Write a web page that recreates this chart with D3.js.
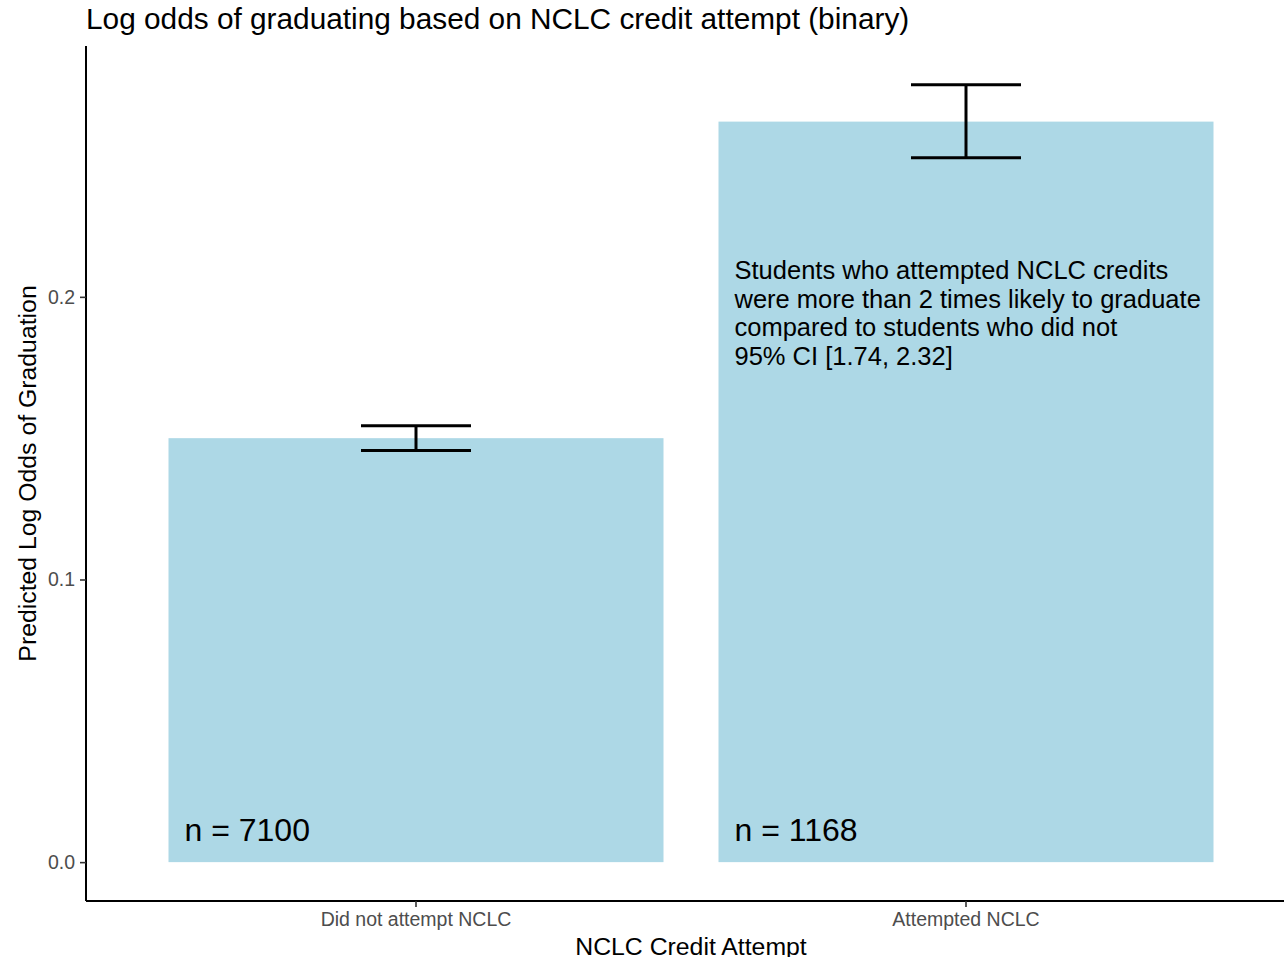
<!DOCTYPE html>
<style>
body { margin: 0; background: #fff; }
text { font-family: "Liberation Sans", Arial, sans-serif; }
</style>
<svg width="1284" height="957"></svg>
<script src="https://d3js.org/d3.v7.min.js"></script>
<script>

var categories = ["Did not attempt NCLC", "Attempted NCLC"];
var logOdds = [0.1500, 0.2620];
var ciLow = [0.1456, 0.2492];
var ciHigh = [0.1544, 0.2750];
var counts = ["n = 7100", "n = 1168"];
var yTicks = [0.0, 0.1, 0.2];
var note = ["Students who attempted NCLC credits",
            "were more than 2 times likely to graduate",
            "compared to students who did not",
            "95% CI [1.74, 2.32]"];

var svg = d3.select("svg"),
    margin = {top: 46, right: -12, bottom: 56, left: 86},
    width = +svg.attr("width") - margin.left - margin.right,
    height = +svg.attr("height") - margin.top - margin.bottom,
    g = svg.append("g").attr("transform", "translate(" + margin.left + "," + margin.top + ")");

var data = categories.map(function(c, i) {
  return {cat: c, v: logOdds[i], lo: ciLow[i], hi: ciHigh[i], n: counts[i]};
});

var x = d3.scaleBand()
    .domain(categories)
    .range([0, width])
    .paddingInner(0.1)
    .paddingOuter(0.15);

var yMax = d3.max(ciHigh), pad = yMax * 0.05;
var y = d3.scaleLinear()
    .domain([-pad, yMax + pad])
    .range([height, 0]);

// bars
g.selectAll(".bar")
  .data(data)
  .enter().append("rect")
    .attr("x", function(d) { return x(d.cat); })
    .attr("y", function(d) { return y(d.v); })
    .attr("width", x.bandwidth())
    .attr("height", function(d) { return y(0) - y(d.v); })
    .attr("fill", "#add8e6");

// error bars
var eb = g.selectAll(".err")
  .data(data)
  .enter().append("g")
    .attr("stroke", "#000")
    .attr("stroke-width", 3);

var half = x.bandwidth() * 0.2 / 0.9 / 2;

eb.append("line")
    .attr("x1", function(d) { return x(d.cat) + x.bandwidth() / 2; })
    .attr("x2", function(d) { return x(d.cat) + x.bandwidth() / 2; })
    .attr("y1", function(d) { return y(d.lo); })
    .attr("y2", function(d) { return y(d.hi); });
eb.append("line")
    .attr("x1", function(d) { return x(d.cat) + x.bandwidth() / 2 - half; })
    .attr("x2", function(d) { return x(d.cat) + x.bandwidth() / 2 + half; })
    .attr("y1", function(d) { return y(d.hi); })
    .attr("y2", function(d) { return y(d.hi); });
eb.append("line")
    .attr("x1", function(d) { return x(d.cat) + x.bandwidth() / 2 - half; })
    .attr("x2", function(d) { return x(d.cat) + x.bandwidth() / 2 + half; })
    .attr("y1", function(d) { return y(d.lo); })
    .attr("y2", function(d) { return y(d.lo); });

// n labels
g.selectAll(".nlab")
  .data(data)
  .enter().append("text")
    .attr("x", function(d) { return x(d.cat) + 16; })
    .attr("y", y(0) - 21)
    .attr("font-size", 32)
    .attr("fill", "#000")
    .text(function(d) { return d.n; });

// annotation
g.append("text")
    .attr("x", x(categories[1]) + 16)
    .attr("y", 233)
    .attr("font-size", 25.5)
    .attr("fill", "#000")
  .selectAll("tspan")
  .data(note)
  .enter().append("tspan")
    .attr("x", x(categories[1]) + 16)
    .attr("dy", function(d, i) { return i ? 28.5 : 0; })
    .text(function(d) { return d; });

// axes
var xAxis = g.append("g")
    .attr("transform", "translate(0," + height + ")")
    .call(d3.axisBottom(x).tickSize(6).tickPadding(5));
var yAxis = g.append("g")
    .call(d3.axisLeft(y).tickValues(yTicks).tickFormat(d3.format(".1f")).tickSize(6).tickPadding(5));

[xAxis, yAxis].forEach(function(a) {
  a.select(".domain").attr("stroke", "#000").attr("stroke-width", 2);
  a.selectAll(".tick line").attr("stroke", "#333").attr("stroke-width", 1.6);
  a.selectAll(".tick text").attr("fill", "#4d4d4d").attr("font-size", 19.5)
    .attr("font-family", "Liberation Sans, Arial, sans-serif");
});
xAxis.select(".domain").attr("d", "M0,0H" + width);
yAxis.select(".domain").attr("d", "M0," + height + "V0");

// titles
svg.append("text")
    .attr("x", 86)
    .attr("y", 29)
    .attr("font-size", 29.8)
    .attr("fill", "#000")
    .text("Log odds of graduating based on NCLC credit attempt (binary)");

svg.append("text")
    .attr("x", margin.left + width / 2)
    .attr("y", 955)
    .attr("text-anchor", "middle")
    .attr("font-size", 24.8)
    .attr("fill", "#000")
    .text("NCLC Credit Attempt");

svg.append("text")
    .attr("transform", "translate(36," + (margin.top + height / 2) + ") rotate(-90)")
    .attr("text-anchor", "middle")
    .attr("font-size", 24.8)
    .attr("fill", "#000")
    .text("Predicted Log Odds of Graduation");

</script>
